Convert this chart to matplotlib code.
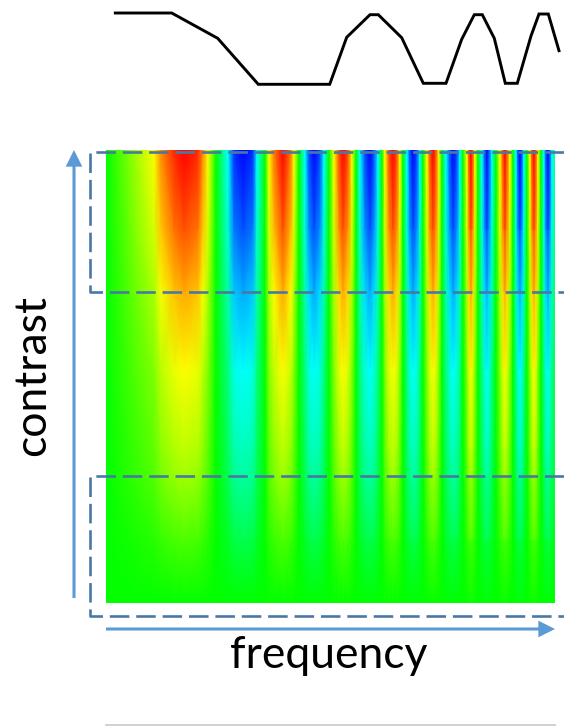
import numpy as np
import matplotlib.pyplot as plt
from matplotlib.colors import LinearSegmentedColormap
from matplotlib.patches import FancyArrowPatch

W = 564
H = 726

# top curve
curveX = [115.3, 171.7, 217.7, 258.3, 329.7, 346.7, 370, 378.3, 401.7, 423.3, 446,
          461.7, 474.3, 482.3, 494.3, 505.3, 517.3, 531, 539, 548.3, 559]
curveY = [13, 13, 38.3, 84.3, 84.3, 37.3, 14.7, 14.7, 37.7, 83.3, 83.3,
          39.3, 14.7, 14.7, 38.3, 83.3, 83.3, 36, 14, 14, 50.7]

# heatmap: response along frequency at top contrast
freqKnots = [0, 24, 48, 55, 68, 78, 92, 97, 102, 110,
             122, 128, 137, 147, 151, 159,
             163, 168, 177, 185, 188, 193,
             199, 203, 208, 214, 218, 223,
             228, 233, 237, 242, 246, 250,
             254, 259, 264, 268, 272, 276,
             279, 283, 287, 291, 294, 297,
             301, 304, 307, 311, 314, 317,
             321, 324, 327, 330, 333, 336,
             340, 344, 347, 351, 354, 357,
             361, 363, 365, 367, 369, 372,
             376, 379, 381, 383, 386, 390,
             394, 397, 399, 401, 404, 407,
             410, 412, 414, 416, 418, 421,
             424, 426, 428, 430, 432, 435,
             438, 440, 442, 444, 446, 449]
response = [0, 0.25, 0.5, 0.72, 0.92, 1, 0.92, 0.72, 0.5, 0,
            -0.5, -0.9, -1, -0.9, -0.5, 0,
            0.5, 0.75, 1, 0.75, 0.5, 0,
            -0.5, -0.85, -1, -0.85, -0.5, 0,
            0.5, 0.85, 1, 0.85, 0.5, 0,
            -0.5, -0.85, -1, -0.85, -0.5, 0,
            0.5, 0.85, 1, 0.85, 0.5, 0,
            -0.5, -0.85, -1, -0.85, -0.5, 0,
            0.5, 0.85, 1, 0.85, 0.5, 0,
            -0.5, -0.85, -1, -0.85, -0.5, 0,
            0.5, 0.85, 1, 0.85, 0.5, 0,
            -0.5, -0.85, -1, -0.85, -0.5, 0,
            0.5, 0.85, 1, 0.85, 0.5, 0,
            -0.5, -0.85, -1, -0.85, -0.5, 0,
            0.5, 0.85, 1, 0.85, 0.5, 0,
            -0.5, -0.85, -1, -0.85, -0.5, -0.3]

# how strong that response is going down the contrast axis
contrastKnots = [0, 80, 142, 220, 300, 326, 390, 453]
gain = [1.0, 0.84, 0.67, 0.5, 0.37, 0.32, 0.15, 0.0]

Z = np.outer(gain, response)

cmap = LinearSegmentedColormap.from_list("rainbow5", ["#0000ff", "#00ffff", "#00ff00", "#ffff00", "#ff0000"])

fig = plt.figure(figsize=(W / 100, H / 100), dpi=100)

ax = fig.add_axes([106 / W, 1 - 603 / H, 449 / W, 453 / H])
ax.pcolormesh(freqKnots, contrastKnots, Z, cmap=cmap, vmin=-1, vmax=1, shading="gouraud")
ax.set_xlim(0, 449)
ax.set_ylim(453, 0)
ax.axis("off")

# overlay in picture pixels for curve, boxes, arrows and labels
over = fig.add_axes([0, 0, 1, 1], facecolor="none")
over.set_xlim(0, W)
over.set_ylim(H, 0)
over.axis("off")

over.plot(curveX, curveY, color="black", lw=2.1, solid_joinstyle="miter")

boxColor = "#4a78a6"
dash = (0, (7.4, 2.6))
over.plot([564, 90, 90, 564], [152.3, 152.3, 291.5, 291.5], color=boxColor, lw=1.9, ls=dash)
over.plot([564, 90, 90, 564], [476, 476, 615.5, 615.5], color=boxColor, lw=1.9, ls=dash)

arrowColor = "#5b9bd5"
arrowStyle = "simple,head_width=12,head_length=12,tail_width=2.2"
over.add_patch(FancyArrowPatch((74, 598), (74, 150), arrowstyle=arrowStyle,
                               color=arrowColor, lw=0, shrinkA=0, shrinkB=0))
over.add_patch(FancyArrowPatch((106, 629), (555, 629), arrowstyle=arrowStyle,
                               color=arrowColor, lw=0, shrinkA=0, shrinkB=0))

over.plot([106, 555], [725, 725], color="#c8c8c8", lw=1.2)

over.text(329, 655, "frequency", family="Lato", fontsize=32, ha="center", va="center", color="black")
over.text(33, 376, "contrast", family="Lato", fontsize=32, rotation=90, ha="center", va="center", color="black")

plt.savefig("out.png", dpi=100)
